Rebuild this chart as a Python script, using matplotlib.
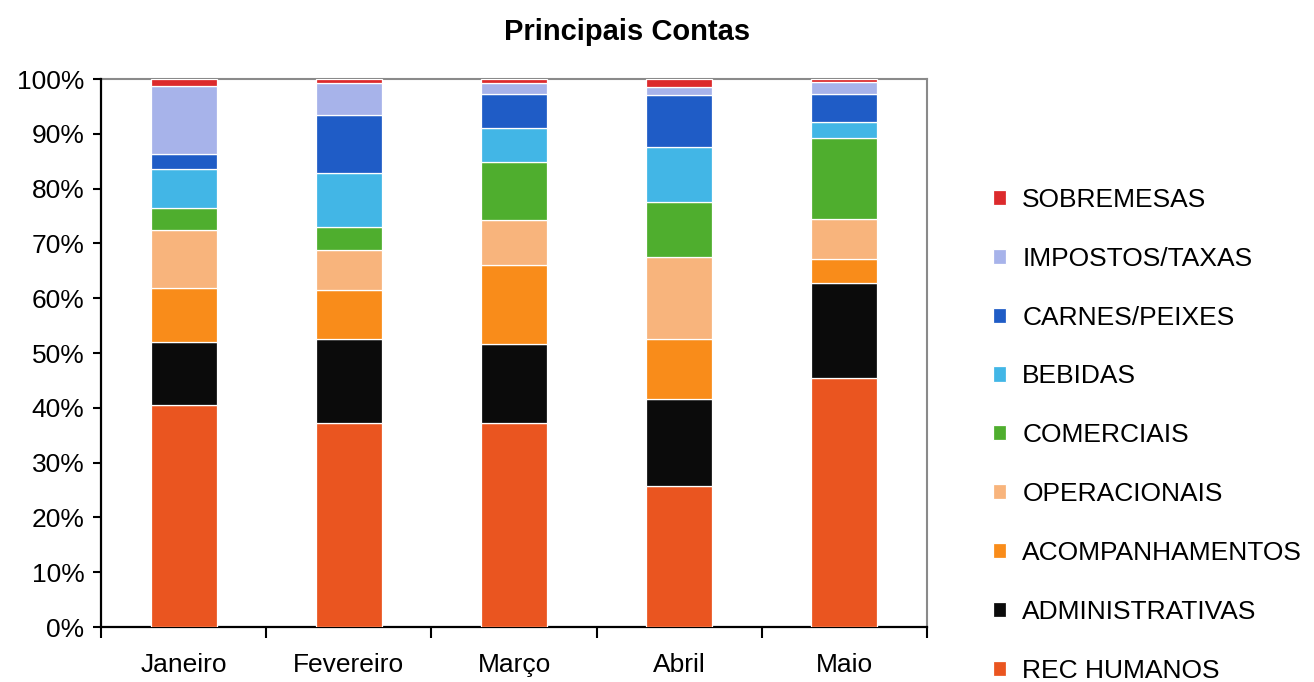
import matplotlib
matplotlib.use('Agg')
import matplotlib.pyplot as plt
import numpy as np

plt.rcParams['font.family'] = ['Liberation Sans', 'DejaVu Sans']

meses = ['Janeiro', 'Fevereiro', 'Março', 'Abril', 'Maio']

# participacao de cada conta no total do mes (%)
rec_humanos      = [40.5, 37.3, 37.3, 25.8, 45.5]
administrativas  = [11.5, 15.2, 14.4, 15.9, 17.2]
acompanhamentos  = [9.8, 9.1, 14.3, 10.9, 4.5]
operacionais     = [10.6, 7.2, 8.2, 15.0, 7.3]
comerciais       = [4.1, 4.2, 10.7, 10.0, 14.8]
bebidas          = [7.1, 9.8, 6.1, 10.1, 2.9]
carnes_peixes    = [2.8, 10.7, 6.3, 9.4, 5.1]
impostos_taxas   = [12.3, 5.8, 1.9, 1.4, 2.2]
sobremesas       = [1.3, 0.7, 0.8, 1.5, 0.5]

contas = ['REC HUMANOS', 'ADMINISTRATIVAS', 'ACOMPANHAMENTOS', 'OPERACIONAIS',
          'COMERCIAIS', 'BEBIDAS', 'CARNES/PEIXES', 'IMPOSTOS/TAXAS', 'SOBREMESAS']
valores = [rec_humanos, administrativas, acompanhamentos, operacionais,
           comerciais, bebidas, carnes_peixes, impostos_taxas, sobremesas]
cores = ['#ea5520', '#0b0b0b', '#f98c1a', '#f8b47c', '#4fae2e',
         '#42b6e6', '#1f5cc6', '#a7b3ea', '#dc2a2c']

fig = plt.figure(figsize=(13.14, 6.82), dpi=100)
ax = fig.add_axes([0.0769, 0.0806, 0.6286, 0.8034])

dados = np.array(valores, dtype=float)
dados = dados / dados.sum(axis=0) * 100
x = np.arange(len(meses))
base = np.zeros(len(meses))
barras = []
for nome, serie, cor in zip(contas, dados, cores):
    b = ax.bar(x, serie, 0.4, bottom=base, color=cor, edgecolor='white',
               linewidth=0.9, label=nome, zorder=3)
    barras.append(b)
    base += serie

ax.set_xlim(-0.5, len(meses) - 0.5)
ax.set_ylim(0, 100)
ax.set_yticks(np.arange(0, 101, 10))
ax.set_yticklabels([f'{v}%' for v in range(0, 101, 10)], fontsize=19)
ax.set_xticks(x)
ax.set_xticklabels(meses, fontsize=19)
ax.set_xticks(np.arange(-0.5, len(meses), 1), minor=True)
ax.tick_params(axis='x', which='major', length=0, pad=19)
ax.tick_params(axis='x', which='minor', length=8, width=1.5, direction='out')
ax.tick_params(axis='y', length=6, width=1.5, direction='out', pad=6)

for lado in ['left', 'bottom']:
    ax.spines[lado].set_color('black')
    ax.spines[lado].set_linewidth(1.6)
for lado in ['top', 'right']:
    ax.spines[lado].set_color('#8a8a8a')
    ax.spines[lado].set_linewidth(1.5)
ax.spines['top'].set_zorder(0.5)

fig.text(627 / 1314, 1 - 32 / 682, 'Principais Contas', fontsize=21,
         fontweight='bold', ha='center', va='center')

fig.legend(barras[::-1], contas[::-1], loc='upper left',
           bbox_to_anchor=(0.7475, 0.740), frameon=False, fontsize=19,
           handlelength=0.5, handleheight=0.5, handletextpad=0.62,
           labelspacing=1.32, borderaxespad=0)

fig.savefig('out.png', dpi=100)
